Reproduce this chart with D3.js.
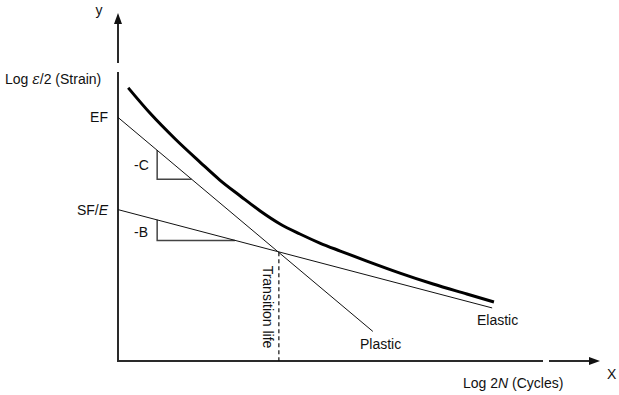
<!DOCTYPE html>
<html><head><meta charset="utf-8">
<script src="https://cdn.jsdelivr.net/npm/d3@7"></script>
<style>
html,body{margin:0;padding:0;background:#fff;}
text{font-family:"Liberation Sans",Arial,sans-serif;font-size:14px;fill:#111;}
</style></head>
<body>
<svg id="chart" width="619" height="395"></svg>
<script>
// Data (x = log 2N, y = log strain amplitude, arbitrary units)
const totalCurve = [
  {x:0.17,y:-0.86},{x:0.53,y:-1.15},{x:0.95,y:-1.448},{x:1.36,y:-1.713},
  {x:1.69,y:-1.92},{x:2.03,y:-2.103},{x:2.36,y:-2.276},{x:2.69,y:-2.425},
  {x:3.02,y:-2.54},{x:3.35,y:-2.644},{x:3.69,y:-2.736},{x:4.13,y:-2.851},
  {x:4.68,y:-2.989},{x:5.23,y:-3.115},{x:5.79,y:-3.23},{x:6.24,y:-3.322}
];
const elasticLine = [{x:0,y:-2.26},{x:6.21,y:-3.39}];
const plasticLine = [{x:0,y:-1.20},{x:4.23,y:-3.66}];
const transition = {x:2.67,y:-2.75};
const triC = [{x:0.65,y:-1.575},{x:0.65,y:-1.91},{x:1.22,y:-1.91}];
const triB = [{x:0.65,y:-2.377},{x:0.65,y:-2.615},{x:1.94,y:-2.615}];
const xDomain = [0,8];
const yDomain = [-4,0];

const svg = d3.select("#chart");
const x = d3.scaleLinear().domain(xDomain).range([118,600]);
const y = d3.scaleLinear().domain(yDomain).range([361,13]);
const line = d3.line().x(d=>x(d.x)).y(d=>y(d.y));

// Axes
const axisColor = "#2a2a2a";
svg.append("line").attr("x1",x(0)).attr("x2",x(0)).attr("y1",y(-4)).attr("y2",72)
  .attr("stroke",axisColor).attr("stroke-width",2);
svg.append("line").attr("x1",x(0)).attr("x2",x(0)).attr("y1",63).attr("y2",y(0)+9)
  .attr("stroke",axisColor).attr("stroke-width",2);
svg.append("path").attr("d",`M${x(0)},${y(0)} L${x(0)-4},${y(0)+11} L${x(0)+4},${y(0)+11} Z`).attr("fill","#111");
svg.append("line").attr("x1",x(0)-1).attr("x2",543).attr("y1",y(-4)).attr("y2",y(-4))
  .attr("stroke",axisColor).attr("stroke-width",2);
svg.append("line").attr("x1",549).attr("x2",x(8)-9).attr("y1",y(-4)).attr("y2",y(-4))
  .attr("stroke",axisColor).attr("stroke-width",2);
svg.append("path").attr("d",`M${x(8)},${y(-4)} L${x(8)-11},${y(-4)-4} L${x(8)-11},${y(-4)+4} Z`).attr("fill","#111");

// Triangles
[triC,triB].forEach(t=>{
  svg.append("path").attr("d",line(t)).attr("fill","none").attr("stroke","#444").attr("stroke-width",1.5);
});

// Elastic and plastic lines
svg.append("path").attr("d",line(elasticLine)).attr("fill","none").attr("stroke","#111").attr("stroke-width",1);
svg.append("path").attr("d",line(plasticLine)).attr("fill","none").attr("stroke","#111").attr("stroke-width",1);

// Transition dashed line
svg.append("line").attr("x1",x(transition.x)).attr("x2",x(transition.x))
  .attr("y1",y(transition.y)).attr("y2",y(-4))
  .attr("stroke","#111").attr("stroke-width",1.2).attr("stroke-dasharray","4,3");

// Total curve
svg.append("path").attr("d",d3.line().x(d=>x(d.x)).y(d=>y(d.y)).curve(d3.curveMonotoneX)(totalCurve))
  .attr("fill","none").attr("stroke","#000").attr("stroke-width",3);

// Labels
svg.append("text").attr("x",99).attr("y",15).attr("text-anchor","middle").text("y");
const yl = svg.append("text").attr("x",5).attr("y",84);
yl.append("tspan").text("Log ");
yl.append("tspan").attr("font-style","italic").attr("font-family","DejaVu Serif").text("ε");
yl.append("tspan").text("/2 (Strain)");
svg.append("text").attr("x",108).attr("y",y(plasticLine[0].y)+5).attr("text-anchor","end").text("EF");
const sf = svg.append("text").attr("x",108).attr("y",y(elasticLine[0].y)+5).attr("text-anchor","end");
sf.append("tspan").text("SF/");
sf.append("tspan").attr("font-style","italic").text("E");
svg.append("text").attr("x",134).attr("y",170).text("-C");
svg.append("text").attr("x",134).attr("y",237).text("-B");
svg.append("text").attr("x",360).attr("y",349).text("Plastic");
svg.append("text").attr("x",477).attr("y",325).text("Elastic");
svg.append("text").attr("transform",`translate(${x(transition.x)-16},307) rotate(90)`)
  .attr("text-anchor","middle").text("Transition life");
const xl = svg.append("text").attr("x",463).attr("y",388);
xl.append("tspan").text("Log 2");
xl.append("tspan").attr("font-style","italic").text("N");
xl.append("tspan").text(" (Cycles)");
svg.append("text").attr("x",607).attr("y",379).text("X");
</script>
</body></html>
